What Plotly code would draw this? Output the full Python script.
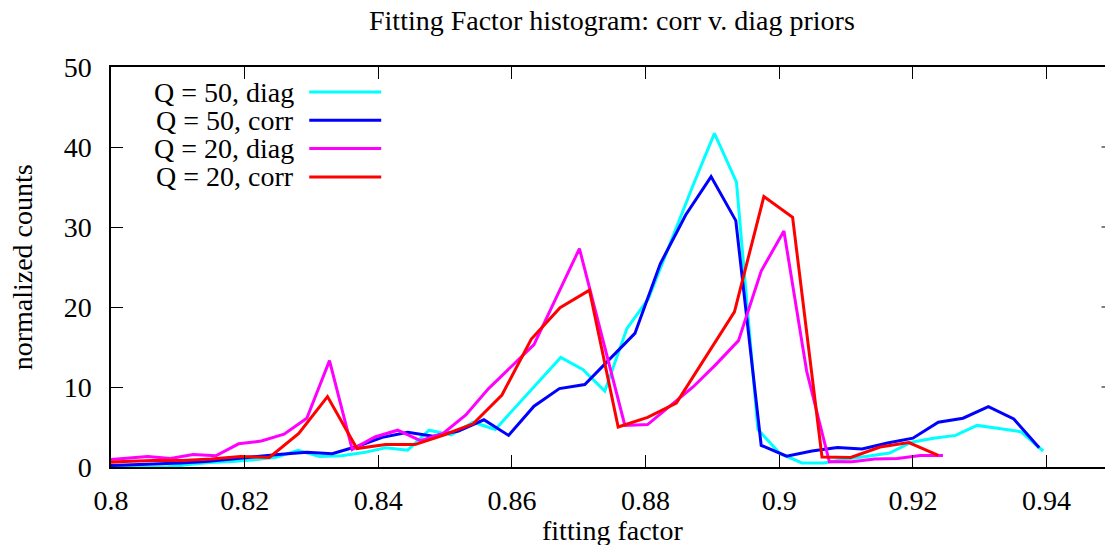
import plotly.graph_objects as go

# ---- histogram data (bin position, normalized count) ----
q50_diag_x = [0.7984, 0.8017, 0.8050, 0.8083, 0.8116, 0.8148, 0.8181, 0.8214, 0.8247, 0.8280,
              0.8312, 0.8345, 0.8378, 0.8411, 0.8444, 0.8476, 0.8509, 0.8542, 0.8575, 0.8673,
              0.8706, 0.8739, 0.8772, 0.8804, 0.8870, 0.8903, 0.8936, 0.8968, 0.9001, 0.9034,
              0.9067, 0.9100, 0.9132, 0.9165, 0.9198, 0.9231, 0.9264, 0.9296, 0.9329, 0.9362,
              0.9395]
q50_diag_y = [0.3, 0.1, 0.0, 0.0, 0.3, 0.55, 0.7, 0.9, 1.2, 2.1,
              1.3, 1.4, 1.8, 2.4, 2.1, 4.6, 4.0, 5.6, 4.7, 13.7,
              12.2, 9.5, 17.3, 21.0, 35.0, 41.7, 35.6, 4.7, 1.7, 0.5,
              0.5, 1.0, 1.35, 1.75, 3.1, 3.6, 3.95, 5.2, 4.8, 4.4,
              2.0]

q50_corr_x = [0.7991, 0.8029, 0.8066, 0.8104, 0.8142, 0.8180, 0.8217, 0.8255, 0.8293, 0.8331,
              0.8369, 0.8406, 0.8444, 0.8482, 0.8520, 0.8558, 0.8595, 0.8633, 0.8671, 0.8709,
              0.8784, 0.8822, 0.8860, 0.8898, 0.8935, 0.8973, 0.9011, 0.9049, 0.9087, 0.9124,
              0.9162, 0.9200, 0.9238, 0.9275, 0.9313, 0.9351, 0.9389]
q50_corr_y = [0.15, 0.25, 0.35, 0.5, 0.7, 1.0, 1.35, 1.6, 1.85, 1.65,
              2.6, 3.7, 4.35, 3.85, 4.5, 5.9, 3.95, 7.6, 9.8, 10.3,
              16.7, 25.4, 31.5, 36.3, 30.8, 2.7, 1.35, 2.0, 2.45, 2.25,
              3.0, 3.6, 5.6, 6.1, 7.55, 6.0, 2.4]

q20_diag_x = [0.7987, 0.8021, 0.8055, 0.8089, 0.8123, 0.8157, 0.8191, 0.8225, 0.8259, 0.8293,
              0.8327, 0.8361, 0.8395, 0.8429, 0.8463, 0.8497, 0.8531, 0.8565, 0.8599, 0.8633,
              0.8701, 0.8769, 0.8803, 0.8837, 0.8871, 0.8905, 0.8939, 0.8973, 0.9007, 0.9041,
              0.9075, 0.9109, 0.9143, 0.9177, 0.9211, 0.9245]
q20_diag_y = [0.85, 1.1, 1.3, 1.05, 1.55, 1.4, 2.9, 3.25, 4.1, 6.1,
              13.3, 2.2, 3.75, 4.6, 3.3, 4.2, 6.5, 9.8, 12.6, 15.3,
              27.3, 5.2, 5.3, 7.6, 10.0, 12.8, 15.8, 24.5, 29.5, 12.0,
              0.65, 0.65, 1.0, 1.05, 1.45, 1.45]

q20_corr_x = [0.7976, 0.8020, 0.8063, 0.8107, 0.8150, 0.8194, 0.8237, 0.8281, 0.8324, 0.8368,
              0.8411, 0.8455, 0.8498, 0.8542, 0.8585, 0.8629, 0.8672, 0.8716, 0.8759, 0.8803,
              0.8846, 0.8933, 0.8977, 0.9020, 0.9064, 0.9107, 0.9151, 0.9194, 0.9238]
q20_corr_y = [0.5, 0.7, 0.8, 0.8, 1.0, 1.3, 1.2, 4.2, 8.8, 2.3,
              2.8, 2.8, 4.0, 5.4, 9.0, 16.0, 19.9, 22.1, 5.0, 6.2,
              8.0, 19.4, 33.8, 31.2, 1.25, 1.2, 2.5, 3.05, 1.45]

series_names = ["Q = 50, diag", "Q = 50, corr", "Q = 20, diag", "Q = 20, corr"]
series_x = [q50_diag_x, q50_corr_x, q20_diag_x, q20_corr_x]
series_y = [q50_diag_y, q50_corr_y, q20_diag_y, q20_corr_y]
series_colors = ["#00FFFF", "#0000FF", "#FF00FF", "#FF0000"]

x_tick_vals = [0.80, 0.82, 0.84, 0.86, 0.88, 0.90, 0.92, 0.94]
x_tick_text = ["0.8", "0.82", "0.84", "0.86", "0.88", "0.9", "0.92", "0.94"]
y_tick_vals = [0, 10, 20, 30, 40, 50]

FONT = "Liberation Serif, Times New Roman, serif"
FS = 28
W, H = 1105, 545
ML, MR, MT, MB = 110.7, 0.0, 66.7, 78.3
PW, PH = W - ML - MR, H - MT - MB
X_MIN, X_MAX = 0.8, 0.94875


def px_x(p):
    """pixel x -> paper x"""
    return (p - ML) / PW


def px_y(p):
    """pixel y (from top) -> paper y"""
    return (H - MB - p) / PH


fig = go.Figure()
for name, xs, ys, col in zip(series_names, series_x, series_y, series_colors):
    fig.add_trace(go.Scatter(x=xs, y=ys, mode="lines", name=name,
                             line=dict(color=col, width=3), showlegend=False))

# key drawn by hand: right-aligned labels followed by a line sample
shapes = []
annotations = []
for i, (name, col) in enumerate(zip(series_names, series_colors)):
    yc = px_y(91.7 + 28.3 * i)
    annotations.append(dict(x=px_x(296), y=yc, xref="paper", yref="paper",
                            text=name, showarrow=False, xanchor="right", yanchor="middle",
                            font=dict(family=FONT, size=FS, color="black")))
    shapes.append(dict(type="line", xref="paper", yref="paper",
                       x0=px_x(309), x1=px_x(381), y0=yc, y1=yc,
                       line=dict(color=col, width=3)))

# inward ticks on the right-hand side
for v in y_tick_vals[1:-1]:
    shapes.append(dict(type="line", xref="paper", yref="y",
                       x0=px_x(1101.5), x1=1.0, y0=v, y1=v,
                       line=dict(color="black", width=1)))

annotations.append(dict(x=px_x(612), y=px_y(20), xref="paper", yref="paper",
                        text="Fitting Factor histogram: corr v. diag priors",
                        showarrow=False, xanchor="center", yanchor="middle",
                        font=dict(family=FONT, size=FS, color="black")))
annotations.append(dict(x=px_x(612), y=px_y(530), xref="paper", yref="paper",
                        text="fitting factor", showarrow=False,
                        xanchor="center", yanchor="middle",
                        font=dict(family=FONT, size=FS, color="black")))
annotations.append(dict(x=px_x(22), y=0.5, xref="paper", yref="paper",
                        text="normalized counts", showarrow=False, textangle=-90,
                        xanchor="center", yanchor="middle",
                        font=dict(family=FONT, size=FS, color="black")))

fig.update_layout(
    width=W, height=H,
    margin=dict(l=ML, r=MR, t=MT, b=MB, pad=0, autoexpand=False),
    paper_bgcolor="white", plot_bgcolor="white",
    font=dict(family=FONT, size=FS, color="black"),
    shapes=shapes, annotations=annotations,
    xaxis=dict(range=[X_MIN, X_MAX],
               tickvals=x_tick_vals, ticktext=x_tick_text,
               ticks="inside", ticklen=12, tickwidth=1, tickcolor="black",
               showline=True, linecolor="black", linewidth=1.5, mirror="ticks",
               showgrid=False, zeroline=False, automargin=False,
               ticklabelstandoff=8),
    yaxis=dict(range=[0, 50], tickvals=y_tick_vals,
               ticks="inside", ticklen=12, tickwidth=1, tickcolor="black",
               showline=True, linecolor="black", linewidth=1.5, mirror=False,
               showgrid=False, zeroline=False, automargin=False,
               ticklabelstandoff=12),
)

fig.write_html("out.html")
